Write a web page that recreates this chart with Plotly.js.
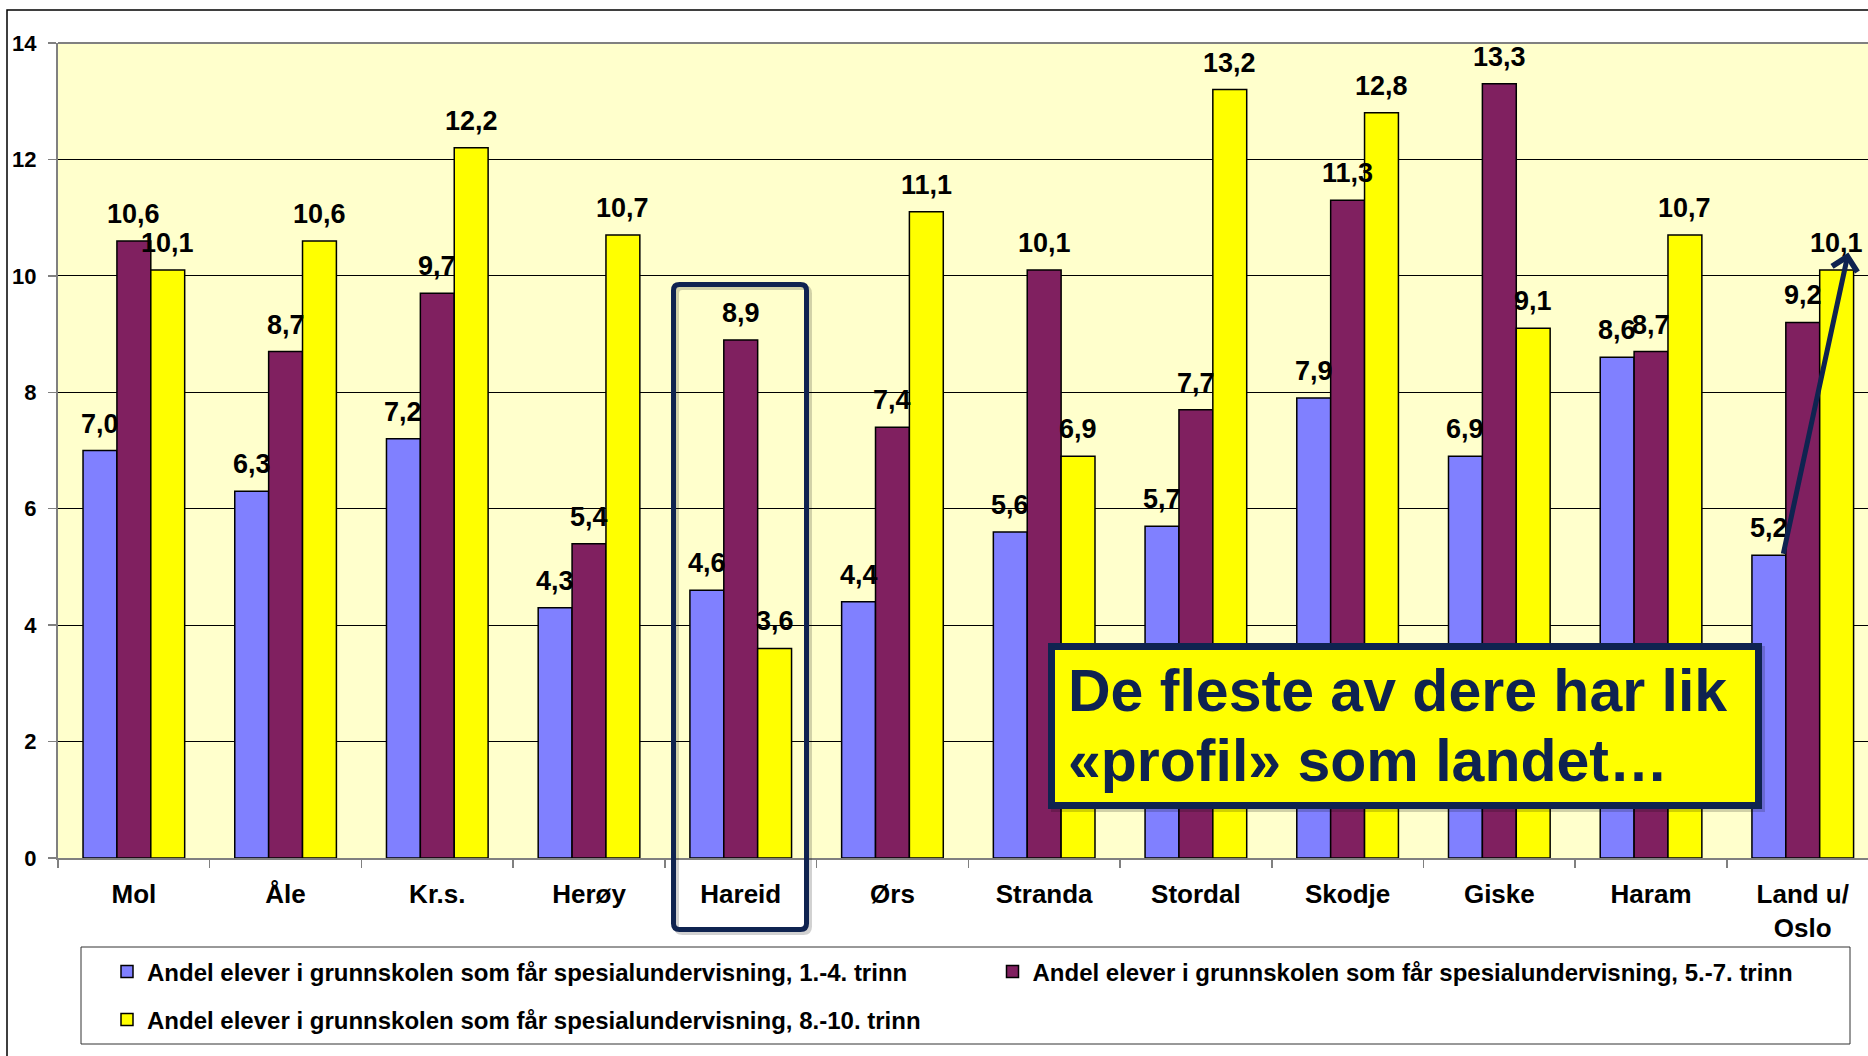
<!DOCTYPE html>
<html>
<head>
<meta charset="utf-8">
<script src="https://cdn.plot.ly/plotly-3.0.1.min.js"></script>
<style>html,body{margin:0;padding:0;overflow:hidden;background:#fff}</style>
</head>
<body>
<div id="chart" style="width:1868px;height:1056px"></div>
<script>
// ---- data ----
const categories = ['Mol', 'Åle', 'Kr.s.', 'Herøy', 'Hareid', 'Ørs', 'Stranda', 'Stordal', 'Skodje', 'Giske', 'Haram', 'Land u/<br>Oslo'];
const trinn1_4 = [7.0, 6.3, 7.2, 4.3, 4.6, 4.4, 5.6, 5.7, 7.9, 6.9, 8.6, 5.2];
const trinn5_7 = [10.6, 8.7, 9.7, 5.4, 8.9, 7.4, 10.1, 7.7, 11.3, 13.3, 8.7, 9.2];
const trinn8_10 = [10.1, 10.6, 12.2, 10.7, 3.6, 11.1, 6.9, 13.2, 12.8, 9.1, 10.7, 10.1];
const seriesNames = [
  'Andel elever i grunnskolen som får spesialundervisning, 1.-4. trinn',
  'Andel elever i grunnskolen som får spesialundervisning, 5.-7. trinn',
  'Andel elever i grunnskolen som får spesialundervisning, 8.-10. trinn'
];
const yTickVals = [0, 2, 4, 6, 8, 10, 12, 14];
const calloutLines = ['De fleste av dere har lik', '«profil» som landet…'];
const arrowIndex = 11;    // Land u/ Oslo

// ---- styling ----
const seriesColors = ['#8080FF', '#802060', '#FFFF00'];
const navy = '#0F2350';
const sans = 'Liberation Sans, Arial, sans-serif';
const bargap = 0.33;

// plot geometry (pixels) for paper-positioned decorations
const L = 58, T = 43, W = 1810, H = 815;
const px = x => (x - L) / W;
const py = y => (T + H - y) / H;

const allSeries = [trinn1_4, trinn5_7, trinn8_10];
const traces = allSeries.map((vals, k) => ({
  type: 'bar',
  name: seriesNames[k],
  x: categories,
  y: vals,
  marker: {color: seriesColors[k], line: {color: '#000', width: 1.5}},
  legend: k === 2 ? 'legend2' : 'legend',
  hoverinfo: 'skip'
}));

const groupW = 1 - bargap;
const offs = [-groupW / 3, 0, groupW / 3];
const fmt = v => v.toFixed(1).replace('.', ',');

const annotations = [];
allSeries.forEach((vals, k) => {
  vals.forEach((v, i) => {
    annotations.push({
      x: i + offs[k], y: v, xref: 'x', yref: 'y',
      text: fmt(v), showarrow: false, xanchor: 'center', yanchor: 'bottom', yshift: 10,
      font: {family: sans, size: 27, weight: 'bold', color: '#000'}
    });
  });
});

// arrow from blue bar top to above yellow bar (Land u/ Oslo)
annotations.push({
  x: arrowIndex + offs[2] + 0.077, y: trinn8_10[arrowIndex] + 0.3,
  ax: arrowIndex + offs[0] + 0.093, ay: trinn1_4[arrowIndex],
  xref: 'x', yref: 'y', axref: 'x', ayref: 'y',
  text: '', showarrow: true, arrowhead: 4, arrowsize: 1, arrowwidth: 5,
  arrowcolor: navy, standoff: 0, startstandoff: 0
});

// callout text lines
const calloutBaselines = [712, 782];
calloutLines.forEach((t, j) => {
  annotations.push({
    x: px(1066), y: py(calloutBaselines[j] + 14), xref: 'paper', yref: 'paper',
    xanchor: 'left', yanchor: 'bottom', showarrow: false, text: t,
    font: {family: sans, size: 59, weight: 'bold', color: navy}
  });
});

function roundedRect(x0, y0, x1, y1, r) {
  const P = (x, y) => px(x).toFixed(5) + ',' + py(y).toFixed(5);
  return 'M' + P(x0 + r, y0) + ' L' + P(x1 - r, y0) + ' Q' + P(x1, y0) + ' ' + P(x1, y0 + r) +
    ' L' + P(x1, y1 - r) + ' Q' + P(x1, y1) + ' ' + P(x1 - r, y1) +
    ' L' + P(x0 + r, y1) + ' Q' + P(x0, y1) + ' ' + P(x0, y1 - r) +
    ' L' + P(x0, y0 + r) + ' Q' + P(x0, y0) + ' ' + P(x0 + r, y0) + ' Z';
}

const shapes = [
  // outer frame
  {type: 'rect', xref: 'paper', yref: 'paper', x0: px(7), x1: 1.05, y0: -0.5, y1: py(10),
   line: {color: '#000', width: 1.5}, layer: 'above'},
  // top border of plot area
  {type: 'line', xref: 'paper', yref: 'paper', x0: 0, x1: 1, y0: 1, y1: 1,
   line: {color: '#808080', width: 2}, layer: 'above'},
  // legend box
  {type: 'rect', xref: 'paper', yref: 'paper', x0: px(81), x1: px(1850), y0: py(1044), y1: py(947),
   line: {color: '#333', width: 1}, fillcolor: 'rgba(0,0,0,0)', layer: 'above'},
  // Hareid highlight box shadow + box
  {type: 'path', xref: 'paper', yref: 'paper', path: roundedRect(676.5, 287.5, 809.5, 932.5, 6),
   line: {color: 'rgba(0,0,0,0.18)', width: 5}, layer: 'above'},
  {type: 'path', xref: 'paper', yref: 'paper', path: roundedRect(673.5, 284.5, 806.5, 929.5, 6),
   line: {color: navy, width: 5}, layer: 'above'},
  // callout box shadow + box
  {type: 'rect', xref: 'paper', yref: 'paper', x0: px(1054.5), x1: px(1761.5), y0: py(808.5), y1: py(649.5),
   line: {color: 'rgba(0,0,0,0.18)', width: 7}, fillcolor: 'rgba(0,0,0,0.18)', layer: 'above'},
  {type: 'rect', xref: 'paper', yref: 'paper', x0: px(1051.5), x1: px(1758.5), y0: py(805.5), y1: py(646.5),
   line: {color: navy, width: 7}, fillcolor: '#FFFF00', layer: 'above'}
];

const legendCommon = {
  orientation: 'h', xanchor: 'left', yanchor: 'middle', x: px(107),
  font: {family: sans, size: 24, weight: 'bold', color: '#000'},
  entrywidth: 840.5, entrywidthmode: 'pixels',
  bgcolor: 'rgba(0,0,0,0)', borderwidth: 0, traceorder: 'normal'
};

const layout = {
  width: 1868, height: 1056,
  margin: {l: L, r: 0, t: T, b: 1056 - T - H, autoexpand: false},
  paper_bgcolor: '#ffffff', plot_bgcolor: '#FFFFCC',
  barmode: 'group', bargap: bargap, bargroupgap: 0,
  showlegend: true,
  legend: Object.assign({}, legendCommon, {y: py(972)}),
  legend2: Object.assign({}, legendCommon, {y: py(1020)}),
  xaxis: {
    type: 'category', range: [-0.5, 11.43], tickson: 'boundaries',
    ticks: 'outside', ticklen: 8, tickwidth: 1.5, tickcolor: '#808080',
    showline: true, linecolor: '#808080', linewidth: 2, showgrid: false, zeroline: false,
    tickangle: 0, ticklabelstandoff: 12, automargin: false, fixedrange: true,
    tickfont: {family: sans, size: 26, weight: 'bold', color: '#000'}
  },
  yaxis: {
    range: [0, 14], tickvals: yTickVals, ticktext: yTickVals.map(String),
    ticks: 'outside', ticklen: 8, tickwidth: 1.5, tickcolor: '#808080',
    showline: true, linecolor: '#808080', linewidth: 2,
    showgrid: true, gridcolor: '#000', gridwidth: 1, zeroline: false,
    ticklabelstandoff: 7, automargin: false, fixedrange: true,
    tickfont: {family: sans, size: 22, weight: 'bold', color: '#000'}
  },
  annotations: annotations,
  shapes: shapes
};

Plotly.newPlot('chart', traces, layout, {displayModeBar: false, staticPlot: true});
</script>
</body>
</html>
